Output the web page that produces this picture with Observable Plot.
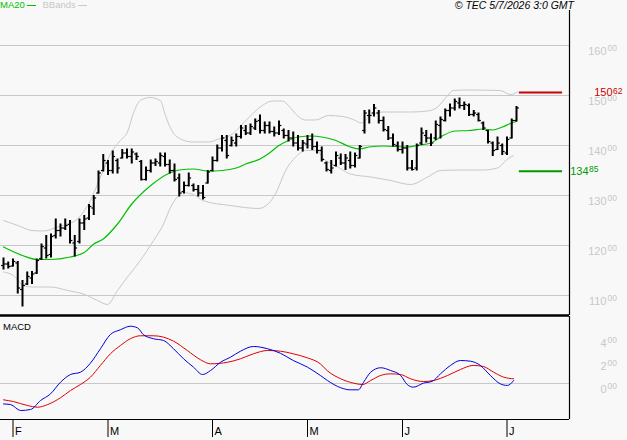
<!DOCTYPE html>
<html><head><meta charset="utf-8">
<script src="https://cdn.jsdelivr.net/npm/d3@7"></script>
<script src="https://cdn.jsdelivr.net/npm/@observablehq/plot@0.6"></script>
<style>
html,body{margin:0;padding:0;background:#f8f8f8;}
#wrap{position:relative;width:627px;height:440px;overflow:hidden;font-family:"Liberation Sans",Arial,sans-serif;background:#f8f8f8;}
.abs{position:absolute;white-space:nowrap;}
.ln{display:inline-block;width:9px;height:1px;vertical-align:middle;margin-left:2px;}
</style></head><body>
<div id="wrap">
  <div class="abs" style="left:0;top:0;font-size:9.5px;line-height:10px;">
    <span style="color:#00c000">MA20</span><span class="ln" style="background:#00c000"></span>
    <span style="color:#c8c8c8;margin-left:4px">BBands</span><span class="ln" style="background:#c8c8c8"></span>
  </div>
  <div class="abs" style="right:53px;top:0;font-size:10.5px;line-height:11px;font-style:italic;color:#000">© TEC 5/7/2026 3:0 GMT</div>
  <div class="abs" style="left:3px;top:322px;font-size:9.5px;line-height:10px;color:#000">MACD</div>
  <div class="abs" id="main" style="left:0;top:10px;"></div>
  <div class="abs" id="macd" style="left:0;top:316px;"></div>
</div>
<script>
// ---- data (trading-day index 0..108) ----
const highs = [117.5,116.7,117.3,116.8,113.0,114.7,114.8,117.3,120.3,122.0,
 122.3,125.3,124.3,125.3,125.0,122.0,125.3,126.0,128.2,130.0,
 134.9,138.2,137.0,138.9,137.3,139.2,139.3,139.3,138.5,137.0,
 135.7,137.1,137.3,138.5,138.5,137.1,136.3,134.3,132.7,134.5,
 132.3,132.0,132.0,135.0,137.7,140.1,142.0,142.0,141.7,142.3,
 144.0,144.0,144.3,145.3,146.1,144.7,144.7,143.7,144.9,143.3,
 143.0,142.7,142.0,141.0,142.0,142.3,140.7,139.7,136.7,137.0,
 138.7,138.3,138.2,138.7,138.5,140.0,147.0,147.1,148.2,147.0,
 145.7,143.8,142.3,140.7,140.7,140.0,137.0,140.3,143.5,143.0,
 142.3,144.9,145.7,147.3,148.3,149.3,149.5,148.7,148.3,147.0,
 146.5,144.7,143.0,140.7,141.7,140.3,141.7,145.3,147.8];
const lows = [115.1,115.3,115.7,110.3,107.7,112.0,112.2,114.2,117.0,117.3,
 117.5,121.3,121.7,123.0,120.3,117.7,120.3,123.0,125.0,126.0,
 130.3,134.7,134.0,134.3,134.3,137.3,137.3,136.3,137.0,132.9,
 132.9,134.5,135.8,135.7,135.7,134.3,132.7,129.7,130.3,131.7,
 130.7,129.7,129.1,132.3,134.7,136.7,138.7,137.3,139.7,139.7,
 141.3,142.0,142.0,143.0,142.3,142.3,142.3,141.7,142.0,141.3,
 140.7,139.7,138.9,138.7,139.3,139.0,138.3,136.7,134.7,134.3,
 135.7,136.0,135.0,135.3,135.5,137.3,142.3,144.3,145.7,144.3,
 142.7,141.0,139.7,138.7,138.3,134.9,134.9,134.9,140.0,140.5,
 139.8,141.0,141.3,144.7,145.7,146.9,147.3,147.0,145.8,145.7,
 144.7,143.0,140.3,137.8,139.0,138.0,138.0,141.3,144.7];
const opens = [116.0,116.3,115.9,116.5,111.2,112.3,113.5,114.5,117.4,119.5,
 118.2,122.0,123.0,123.5,124.2,120.5,120.8,124.5,125.5,127.5,
 130.5,135.0,136.5,135.0,137.0,137.5,138.5,137.8,138.3,136.8,
 133.2,135.0,136.5,136.5,137.8,136.2,135.0,133.5,130.8,132.0,
 132.0,131.2,130.5,132.5,135.0,137.0,139.5,141.0,140.0,140.5,
 141.8,143.0,142.5,143.5,145.0,143.0,144.0,142.8,142.5,143.0,
 142.0,141.5,140.5,139.5,140.3,141.2,139.8,139.0,136.5,135.0,
 136.0,137.5,136.5,137.0,136.0,137.5,143.0,146.0,146.5,146.5,
 145.0,143.0,141.5,140.0,139.2,139.5,135.5,135.5,140.5,142.0,
 141.5,141.5,144.0,145.0,147.0,147.5,148.5,148.0,148.0,146.2,
 146.2,144.5,143.0,140.5,139.2,140.0,138.5,141.5,145.0];
const closes = [116.3,115.8,116.8,111.5,112.0,113.8,114.3,117.0,119.8,118.0,
 121.8,123.0,123.5,124.0,121.0,119.5,124.5,125.3,127.8,129.5,
 134.5,137.0,135.0,137.8,135.5,138.5,137.8,138.7,137.8,133.2,
 135.0,136.5,136.8,138.0,136.2,135.0,133.2,130.5,132.0,133.5,
 131.2,130.5,129.6,134.7,137.0,139.5,141.5,138.0,141.0,141.8,
 143.5,142.5,143.8,144.8,143.0,144.0,142.8,142.5,144.0,142.0,
 141.5,140.5,139.5,140.5,141.2,139.8,139.0,137.2,135.2,135.5,
 138.0,136.5,137.5,136.0,138.0,139.8,146.5,146.0,147.5,145.0,
 143.2,141.5,140.2,139.2,139.5,135.5,135.2,140.0,142.5,141.5,
 140.5,144.2,145.2,147.0,147.5,148.8,148.0,148.2,146.2,146.5,
 145.0,143.5,140.8,139.0,140.5,138.8,141.2,145.0,147.5];

const maIdx = [0,4,7,10,14,17,19,21,24,27,31,35,37,40,43,46,49,51,54,56,58,60,62,65,67,70,73,75,77,80,85,87,90,92,95,98,101,103,105,107,108];
const maVal = [119.7,118,117.2,117.2,117.7,118.6,120.3,121.3,124.3,128.3,132,134.5,135.1,135.3,134.9,135.0,135.5,136.3,137.3,138.5,140,141,141.7,141.9,141.7,141,139.7,139.3,139.7,139.9,139.7,140,140.5,141.7,142.9,143,143.3,143.1,143.7,144.5,144.8];

const bbUpIdx = [0,3,6,8.4,11.4,13.5,15.6,16.8,18.3,19.8,21,22.5,24.6,26.1,27.4,28.8,30.9,33,34.1,35.2,37.3,39.8,43.2,45.3,48.2,50.3,52.4,54.5,56.6,58.7,60,61.5,63.6,65.7,68.4,71.4,74.1,75.2,77.3,80,85.7,89.3,91.4,93.5,94.7,97.7,104.6,106.7,108.2];
const bbUpVal = [125,124,123,122.9,123.7,124.3,125.3,126.7,129,132.3,135,138.3,141,142.7,146.6,149,149.6,149,146,143.4,141.3,140.7,140.7,141.3,142.3,144.3,146.3,148,148.9,148.9,148,146.3,145.1,145.1,146,145.8,145,144.5,146,146.7,146.7,146.9,147.7,150,151,151.1,151,150.2,150.7];
const bbLoIdx = [0,2.1,4.2,6.3,9.9,13.5,16.8,19.8,21.9,24,26.1,28.8,31.6,33.7,35.2,36.6,37.7,40.4,41.9,47.8,53.7,55.8,57.3,59.4,61.5,63.6,65.7,67.8,69.9,73,77.3,81.5,85.7,89.3,92,96.2,101,104,106.1,107.4];
const bbLoVal = [114.7,114,112,111.7,111.7,111,110.3,109,108.2,111,113.7,117,121,124.3,127.7,129.7,130.6,130,129,128,127.4,128.4,130.4,135,137.7,139,139,137,136,134.3,133.7,133,132.2,133.7,135,135.1,135.1,135.5,137.3,138];

const macdIdx = [0,1.5,3.6,5.7,7.8,9.9,12,14.1,16.2,18.3,20.4,22.5,24.6,26.7,28.2,29.5,31.6,33.7,35.8,37.9,40,41.9,43.6,45.7,47.8,49.9,52.6,55.6,58.3,61,64,66.7,68.2,71,73,74.7,75.8,77.3,79.4,81.5,83.6,85,86.3,88.4,90.3,92,94.1,96.2,98.3,100.4,102.5,104.6,106.1,107.4];
const macdVal = [-1.78,-1.83,-2.35,-2.26,-1.48,-0.90,0.11,0.78,0.98,1.77,3.02,4.26,4.67,4.98,4.84,4.23,3.89,3.74,3.02,2.15,1.42,0.78,1.13,1.85,2.29,2.81,3.22,3.02,2.63,2.0,1.42,0.70,0.26,-0.37,-0.55,-0.55,0.11,0.98,1.37,1.13,0.70,-0.09,-0.32,0.03,0.2,0.84,1.57,2.0,1.94,1.57,0.70,-0.03,-0.17,0.26];
const sigIdx = [0,2.1,5,7.2,9.3,12,14.1,16.2,18.3,20.4,22.5,24.6,26.7,28.8,31.6,33.7,35.8,38.7,41.5,43.6,47.2,49.9,52.6,55.6,58.3,61,64,66.7,68.2,71,73.7,75.6,77.3,79.4,81.5,83.6,85.7,88.4,90.5,93.5,96.2,98.9,101,103.2,105.3,107.4];
const sigVal = [-1.42,-1.57,-1.91,-2.06,-1.83,-1.24,-0.61,-0.09,0.55,1.57,2.58,3.30,3.89,4.15,4.15,4.03,3.68,2.87,2.06,1.71,1.85,2.15,2.58,2.87,2.81,2.58,2.23,1.71,1.1,0.41,0.03,-0.09,0.26,0.70,0.84,0.78,0.41,0.17,0.26,0.70,1.22,1.57,1.48,0.98,0.55,0.41];

const monthIdx = [2,22,44,64,84,106];
const monthLabels = ["F","M","A","M","J","J"];
const priceTicks = [110,120,130,140,150,160];
const macdTicks = [0,2,4];
const resistance = 150.62;
const support = 134.85;

// ---- build tables ----
const bars = highs.map((h,i)=>({i, high:h, low:lows[i], open:opens[i], close:closes[i]}));
const pts = (ix, vs) => ix.map((x,k)=>({i:x, v:vs[k]}));
const ma = pts(maIdx, maVal), bbUp = pts(bbUpIdx, bbUpVal), bbLo = pts(bbLoIdx, bbLoVal);
const macd = pts(macdIdx, macdVal), sig = pts(sigIdx, sigVal);
const lastIdx = bars.length - 1;

const X_DOMAIN = [-3/4.75, 566/4.75];
const GRID = "#c8c8c8";
const FONT = "Liberation Sans, Arial, sans-serif";
const intPart = d => String(Math.floor(d));
const decPart = d => d.toFixed(2).split(".")[1];

const main = Plot.plot({
  width: 627, height: 307,
  marginTop: 0, marginRight: 58, marginBottom: 2, marginLeft: 0,
  style: {background: "transparent", overflow: "visible", fontFamily: FONT},
  x: {domain: X_DOMAIN, axis: null, label: null},
  y: {domain: [106, 167], axis: null, label: null},
  marks: [
    Plot.ruleY(priceTicks, {stroke: GRID, shapeRendering: "crispEdges"}),
    Plot.line(bbUp, {x: "i", y: "v", stroke: GRID, strokeWidth: 1, curve: "monotone-x"}),
    Plot.line(bbLo, {x: "i", y: "v", stroke: GRID, strokeWidth: 1, curve: "monotone-x"}),
    Plot.line(ma, {x: "i", y: "v", stroke: "#00c000", strokeWidth: 1.2, curve: "monotone-x"}),
    Plot.ruleX(bars, {x: "i", y1: "low", y2: "high", stroke: "#000", strokeWidth: 2}),
    Plot.link(bars, {x1: d => d.i - 0.5, x2: d => d.i, y1: "open", y2: "open", stroke: "#000", strokeWidth: 1.2}),
    Plot.link(bars, {x1: d => d.i, x2: d => d.i + 0.5, y1: "close", y2: "close", stroke: "#000", strokeWidth: 1.2}),
    Plot.ruleY([resistance], {x1: lastIdx + 0.6, x2: lastIdx + 9.7, stroke: "#cc0000", strokeWidth: 2}),
    Plot.ruleY([support], {x1: lastIdx + 0.6, x2: lastIdx + 9.7, stroke: "#009900", strokeWidth: 2}),
    Plot.ruleY([106], {stroke: "#000", strokeWidth: 2.5}),
    Plot.ruleX([X_DOMAIN[1]], {stroke: "#000", strokeWidth: 1.2}),
    Plot.text(priceTicks, {y: d => d, text: intPart, frameAnchor: "right", dx: 37, dy: 6, textAnchor: "end", fill: GRID, fontSize: 11}),
    Plot.text(priceTicks, {y: d => d, text: () => "00", frameAnchor: "right", dx: 38, dy: 3, textAnchor: "start", fill: GRID, fontSize: 8.5}),
    Plot.text([resistance], {y: d => d, text: intPart, frameAnchor: "right", dx: 43, dy: 0, textAnchor: "end", fill: "#cc0000", fontSize: 11}),
    Plot.text([resistance], {y: d => d, text: decPart, frameAnchor: "right", dx: 43.5, dy: -1.5, textAnchor: "start", fill: "#cc0000", fontSize: 8.5}),
    Plot.text([support], {y: d => d, text: intPart, frameAnchor: "right", dx: 19, dy: 0, textAnchor: "end", fill: "#009900", fontSize: 11}),
    Plot.text([support], {y: d => d, text: decPart, frameAnchor: "right", dx: 19.5, dy: -1.5, textAnchor: "start", fill: "#009900", fontSize: 8.5})
  ]
});
document.getElementById("main").appendChild(main);

const MACD_DOMAIN = [-36/11.5, 67/11.5];
const lower = Plot.plot({
  width: 627, height: 124,
  marginTop: 0, marginRight: 58, marginBottom: 21, marginLeft: 0,
  style: {background: "transparent", overflow: "visible", fontFamily: FONT, color: "#000"},
  x: {domain: X_DOMAIN, ticks: monthIdx, tickSize: 18, tickFormat: () => "", label: null},
  y: {domain: MACD_DOMAIN, axis: null, label: null},
  marks: [
    Plot.ruleY([0], {stroke: GRID, shapeRendering: "crispEdges"}),
    Plot.line(sig, {x: "i", y: "v", stroke: "#dd0000", strokeWidth: 1, curve: "monotone-x"}),
    Plot.line(macd, {x: "i", y: "v", stroke: "#0000dd", strokeWidth: 1, curve: "monotone-x"}),
    Plot.ruleY([MACD_DOMAIN[0]], {stroke: "#000", strokeWidth: 1.2}),
    Plot.ruleX([X_DOMAIN[1]], {stroke: "#000", strokeWidth: 1.2}),
    Plot.text(macdTicks, {y: d => d, text: d => String(d), frameAnchor: "right", dx: 37, dy: 6, textAnchor: "end", fill: GRID, fontSize: 11}),
    Plot.text(macdTicks, {y: d => d, text: () => "00", frameAnchor: "right", dx: 38, dy: 3, textAnchor: "start", fill: GRID, fontSize: 8.5}),
    Plot.text(monthIdx, {x: d => d, text: (d, k) => monthLabels[k], frameAnchor: "bottom", dx: 2, dy: 15, textAnchor: "start", fill: "#000", fontSize: 11})
  ]
});
document.getElementById("macd").appendChild(lower);
</script>
</body></html>
